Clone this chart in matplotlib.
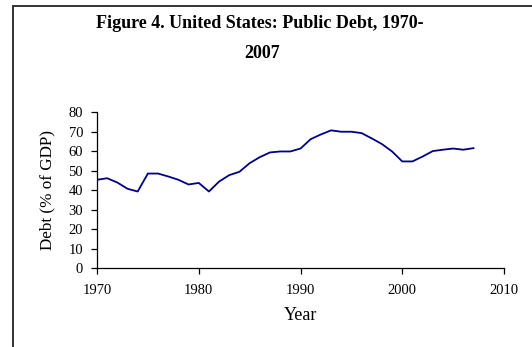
import matplotlib
matplotlib.use("Agg")
import matplotlib.pyplot as plt
from matplotlib.patches import Rectangle

plt.rcParams['font.family'] = ['Liberation Serif', 'DejaVu Serif']

years = list(range(1970, 2008))
debt = [45.3, 46.1, 43.9, 40.7, 39.3, 48.5, 48.5, 47.0, 45.3, 42.9,
        43.7, 39.3, 44.4, 47.7, 49.4, 53.8, 56.9, 59.3, 59.8, 59.8,
        61.3, 66.1, 68.5, 70.6, 69.9, 69.9, 69.2, 66.5, 63.6, 59.8,
        54.7, 54.7, 57.2, 60.0, 60.7, 61.3, 60.7, 61.5]
x_ticks = [1970, 1980, 1990, 2000, 2010]
y_ticks = [0, 10, 20, 30, 40, 50, 60, 70, 80]

fig = plt.figure(figsize=(5.32, 3.47), dpi=100)
# chart border (right and bottom run off the picture)
fig.patches.append(Rectangle((13 / 532, -0.1), 1.2, 1 - 6.5 / 347 + 0.1,
                             transform=fig.transFigure, fill=False,
                             edgecolor='#333333', linewidth=1.4))

ax = fig.add_axes([97 / 532, 1 - 268.3 / 347, 407 / 532, 156.3 / 347])
ax.plot(years, debt, color='#000080', linewidth=1.3)

ax.set_xlim(1970, 2010)
ax.set_ylim(0, 80)
ax.set_xticks(x_ticks)
ax.set_yticks(y_ticks)
ax.spines['top'].set_visible(False)
ax.spines['right'].set_visible(False)
ax.tick_params(labelsize=10.5, length=4, width=0.9, direction='out', colors='black')
ax.tick_params(axis='x', pad=7)
ax.tick_params(axis='y', pad=6)
for s in ['left', 'bottom']:
    ax.spines[s].set_linewidth(0.9)

ax.set_xlabel('Year', fontsize=13)
ax.set_ylabel('Debt (% of GDP)', fontsize=12.3)
ax.yaxis.set_label_coords(-0.103, 0.5)
ax.xaxis.set_label_coords(0.5, -0.245)

fig.text(0.488, 1 - 23 / 347, 'Figure 4. United States: Public Debt, 1970-',
         ha='center', va='center', fontsize=13, fontweight='bold')
fig.text(0.492, 1 - 54 / 347, '2007', ha='center', va='center',
         fontsize=13, fontweight='bold')

fig.savefig('out.png', dpi=100)
